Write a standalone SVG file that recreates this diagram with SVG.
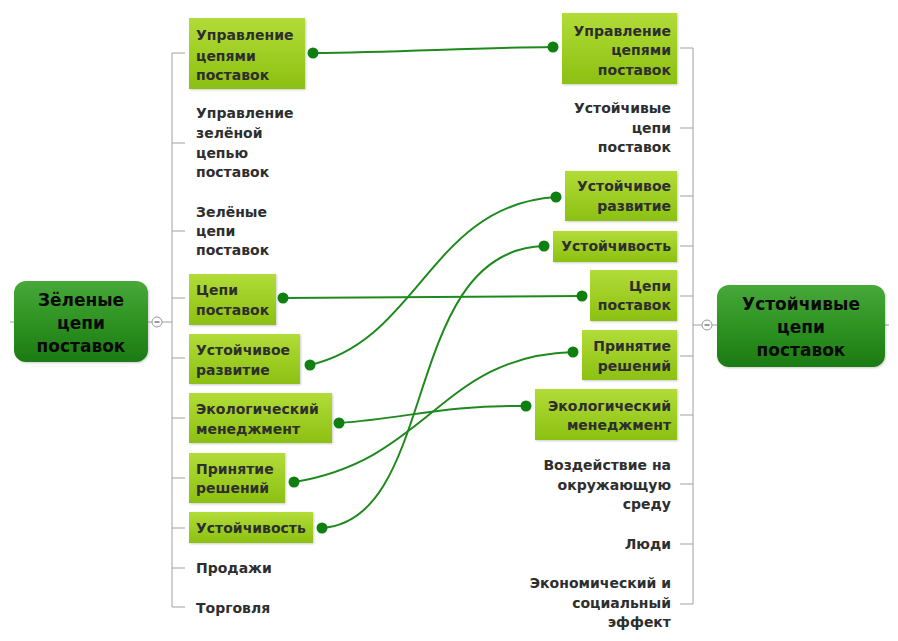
<svg xmlns="http://www.w3.org/2000/svg" width="898" height="641" viewBox="0 0 898 641">
<defs>
<linearGradient id="gBox" x1="0" y1="0" x2="0" y2="1">
<stop offset="0" stop-color="#b2dc38"/>
<stop offset="1" stop-color="#8cc012"/>
</linearGradient>
<linearGradient id="gRoot" x1="0" y1="0" x2="0" y2="1">
<stop offset="0" stop-color="#48a83a"/>
<stop offset="0.5" stop-color="#2e9322"/>
<stop offset="1" stop-color="#1c7a12"/>
</linearGradient>
<filter id="sh" x="-10%" y="-10%" width="130%" height="130%">
<feDropShadow dx="1" dy="1" stdDeviation="1.2" flood-color="#000" flood-opacity="0.2"/>
</filter>
</defs>
<style>
.box{fill:url(#gBox);filter:url(#sh)}
.root{fill:url(#gRoot);filter:url(#sh)}
.t{font-family:"DejaVu Sans",Verdana,sans-serif;font-weight:bold;font-size:14px;fill:#2e2e2e}
.r{text-anchor:end}
.rt{font-family:"DejaVu Sans",Verdana,sans-serif;font-weight:bold;font-size:17px;fill:#0a0a0a;text-anchor:middle}
.br{stroke:#a0a0a0;stroke-width:1;fill:none}
.cn{stroke:#1e8a1e;stroke-width:2;fill:none}
.dot{fill:#0f7f0f}
.col{fill:#fff;stroke:#999;stroke-width:1}
</style>
<rect width="898" height="641" fill="#fff"/>

<g id="branches">
<path class="br" d="M10 322H14M148 322H152M162 322H172M172 53V607M172 53H185M172 143H185M172 231H185M172 298H185M172 358H185M172 418H185M172 478H185M172 528H185M172 568H185M172 607H185"/>
<path class="br" d="M885 325H889M717 325H712M702 325H693M693 48V604M693 48H680M693 128H680M693 196H680M693 246H680M693 296H680M693 356H680M693 415H680M693 484H680M693 544H680M693 604H680"/>
<circle class="col" cx="157" cy="322" r="5"/>
<path d="M154.5 322H159.5" stroke="#555" stroke-width="1.2"/>
<circle class="col" cx="707" cy="325" r="5"/>
<path d="M704.5 325H709.5" stroke="#555" stroke-width="1.2"/>
</g>

<g id="root-left">
<rect class="root" x="14" y="281" width="134" height="81" rx="12"/>
<text class="rt" x="81" y="306">Зёленые</text>
<text class="rt" x="81" y="329">цепи</text>
<text class="rt" x="81" y="352">поставок</text>
</g>
<g id="root-right">
<rect class="root" x="717" y="285" width="168" height="82" rx="12"/>
<text class="rt" x="801" y="310">Устойчивые</text>
<text class="rt" x="801" y="333">цепи</text>
<text class="rt" x="801" y="356">поставок</text>
</g>

<g id="L1"><rect class="box" x="189" y="18" width="116" height="71"/>
<text class="t" x="196" y="40">Управление</text><text class="t" x="196" y="61">цепями</text><text class="t" x="196" y="80">поставок</text></g>
<g id="L2"><text class="t" x="196" y="118">Управление</text><text class="t" x="196" y="138">зелёной</text><text class="t" x="196" y="158">цепью</text><text class="t" x="196" y="177">поставок</text></g>
<g id="L3"><text class="t" x="196" y="217">Зелёные</text><text class="t" x="196" y="236">цепи</text><text class="t" x="196" y="255">поставок</text></g>
<g id="L4"><rect class="box" x="189" y="274" width="87" height="51"/>
<text class="t" x="196" y="295">Цепи</text><text class="t" x="196" y="315">поставок</text></g>
<g id="L5"><rect class="box" x="189" y="334" width="111" height="50"/>
<text class="t" x="196" y="355">Устойчивое</text><text class="t" x="196" y="375">развитие</text></g>
<g id="L6"><rect class="box" x="189" y="393" width="143" height="50"/>
<text class="t" x="196" y="414">Экологический</text><text class="t" x="196" y="434">менеджмент</text></g>
<g id="L7"><rect class="box" x="189" y="453" width="96" height="50"/>
<text class="t" x="196" y="474">Принятие</text><text class="t" x="196" y="493">решений</text></g>
<g id="L8"><rect class="box" x="189" y="512" width="124" height="31"/>
<text class="t" x="196" y="533">Устойчивость</text></g>
<g id="L9"><text class="t" x="196" y="573">Продажи</text></g>
<g id="L10"><text class="t" x="196" y="613">Торговля</text></g>

<g id="R1"><rect class="box" x="562" y="13" width="115" height="71"/>
<text class="t r" x="671" y="36">Управление</text><text class="t r" x="671" y="55">цепями</text><text class="t r" x="671" y="75">поставок</text></g>
<g id="R2"><text class="t r" x="671" y="113">Устойчивые</text><text class="t r" x="671" y="133">цепи</text><text class="t r" x="671" y="152">поставок</text></g>
<g id="R3"><rect class="box" x="565" y="171" width="112" height="50"/>
<text class="t r" x="671" y="191">Устойчивое</text><text class="t r" x="671" y="211">развитие</text></g>
<g id="R4"><rect class="box" x="553" y="231" width="124" height="31"/>
<text class="t r" x="671" y="251">Устойчивость</text></g>
<g id="R5"><rect class="box" x="590" y="270" width="87" height="51"/>
<text class="t r" x="671" y="291">Цепи</text><text class="t r" x="671" y="310">поставок</text></g>
<g id="R6"><rect class="box" x="582" y="330" width="95" height="50"/>
<text class="t r" x="671" y="351">Принятие</text><text class="t r" x="671" y="371">решений</text></g>
<g id="R7"><rect class="box" x="535" y="389" width="142" height="51"/>
<text class="t r" x="671" y="411">Экологический</text><text class="t r" x="671" y="430">менеджмент</text></g>
<g id="R8"><text class="t r" x="671" y="470">Воздействие на</text><text class="t r" x="671" y="490">окружающую</text><text class="t r" x="671" y="509">среду</text></g>
<g id="R9"><text class="t r" x="671" y="549">Люди</text></g>
<g id="R10"><text class="t r" x="671" y="588">Экономический и</text><text class="t r" x="671" y="608">социальный</text><text class="t r" x="671" y="627">эффект</text></g>

<g id="connectors">
<path class="cn" d="M313 53C400 52 470 48 553 47"/>
<path class="cn" d="M283 298C380 297 480 296 582 296"/>
<path class="cn" d="M310 365C420 340 430 205 556 197"/>
<path class="cn" d="M339 423C410 418 440 405 526 406"/>
<path class="cn" d="M294 482C430 460 440 356 573 352"/>
<path class="cn" d="M322 528C440 520 400 250 544 246"/>
<circle class="dot" cx="313" cy="53" r="5.5"/><circle class="dot" cx="553" cy="47" r="5.5"/>
<circle class="dot" cx="283" cy="298" r="5.5"/><circle class="dot" cx="582" cy="296" r="5.5"/>
<circle class="dot" cx="310" cy="365" r="5.5"/><circle class="dot" cx="556" cy="197" r="5.5"/>
<circle class="dot" cx="339" cy="423" r="5.5"/><circle class="dot" cx="526" cy="406" r="5.5"/>
<circle class="dot" cx="294" cy="482" r="5.5"/><circle class="dot" cx="573" cy="352" r="5.5"/>
<circle class="dot" cx="322" cy="528" r="5.5"/><circle class="dot" cx="544" cy="246" r="5.5"/>
</g>
</svg>
